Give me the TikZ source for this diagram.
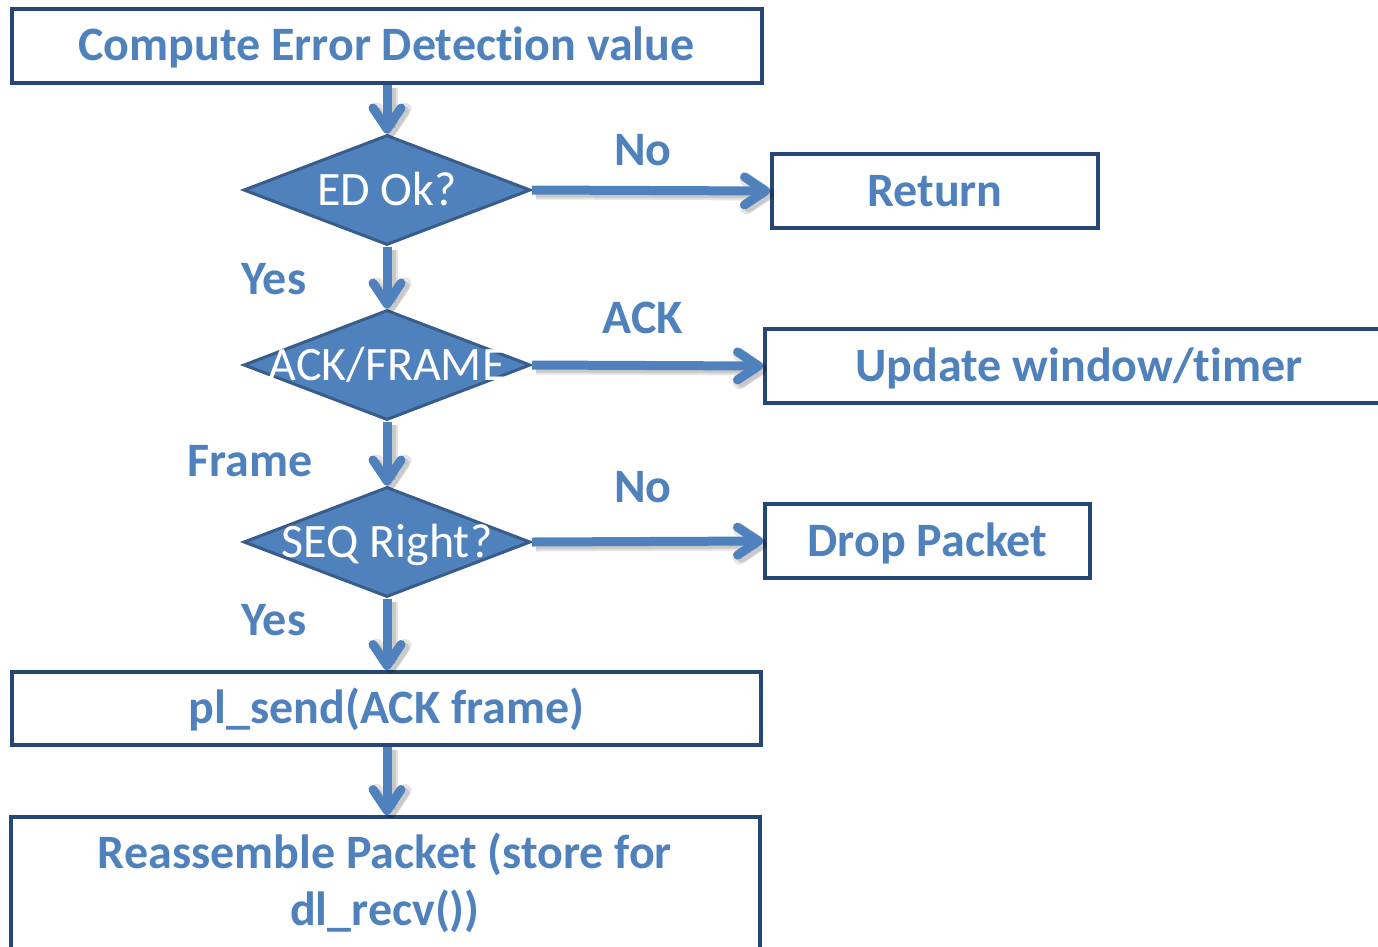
\documentclass[tikz,border=0pt]{standalone}
\usepackage{fontspec}
\setmainfont{Carlito}[Ligatures={NoCommon}]
\usetikzlibrary{shapes.geometric,arrows.meta}
\definecolor{accent}{RGB}{79,129,189}
\definecolor{boxline}{RGB}{38,70,118}
\definecolor{diaedge}{RGB}{56,93,138}
\newcommand{\bigfont}{\fontsize{48}{57}\selectfont}

\begin{document}
\begin{tikzpicture}[x=1pt,y=-1pt,
  stepbox/.style={draw=boxline, line width=4pt, rectangle, inner sep=0pt,
    text=accent, font=\bigfont\bfseries, text height=30pt, text depth=0pt},
  decision/.style={diamond, draw=diaedge, line width=3pt, fill=accent,
    inner sep=0pt, minimum width=287pt, minimum height=110pt,
    label={[text=white, font=\bigfont, text height=30pt, text depth=0pt,
      inner sep=0pt]center:#1}},
  tag/.style={text=accent, font=\bigfont\bfseries, anchor=base, inner sep=0pt},
  flow/.style={draw=accent, line width=9pt,
    -{Straight Barb[length=21pt,width=28pt,round]},
    preaction={draw=black, opacity=0.10, line width=13pt,
      transform canvas={shift={(4pt,-3pt)}}},
    preaction={draw=black, opacity=0.12, line width=9pt,
      transform canvas={shift={(4pt,-3pt)}}}}
]
\clip (0,0) rectangle (1378,946);

% process boxes
\node[stepbox, minimum width=750pt, minimum height=74pt] (compute) at (386.5,45.5)
  {Compute Error Detection value};
\node[stepbox, minimum width=326pt, minimum height=74pt] (ret) at (935,191) {Return};
\node[stepbox, minimum width=628pt, minimum height=74pt] (upd) at (1079,366)
  {Update window/timer};
\node[stepbox, minimum width=325pt, minimum height=74pt] (drop) at (927.5,541)
  {Drop Packet};
\node[stepbox, minimum width=749pt, minimum height=73pt] (send) at (386.5,708.5)
  {pl\_send(ACK frame)};
\node[stepbox, minimum width=749pt, minimum height=183pt] (re) at (385.5,908.5) {};
\node[tag] (re1) at (385,868) {Reassemble Packet (store for};
\node[tag] (re2) at (385,925) {dl\_recv())};

% decisions
\node[decision={ED Ok?}] (d1) at (387,190) {};
\node[decision={ACK/FRAME}] (d2) at (387,365) {};
\node[decision={SEQ Right?}] (d3) at (387,542) {};

% connectors
\draw[flow] (d1.north |- compute.south) -- (d1.north);
\draw[flow] (d1.east) -- (ret.west);
\draw[flow] (d1.south) -- (d2.north);
\draw[flow] (d2.east) -- (upd.west);
\draw[flow] (d2.south) -- (d3.north);
\draw[flow] (d3.east) -- (drop.west);
\draw[flow] (d3.south) -- (d3.south |- send.north);
\draw[flow] (d3.south |- send.south) -- (d3.south |- re.north);

% branch labels
\node[tag] (no1) at (643,165) {No};
\node[tag] (yes1) at (274,294) {Yes};
\node[tag] (ack) at (643,333) {ACK};
\node[tag] (frame) at (250,476) {Frame};
\node[tag] (no2) at (643,502) {No};
\node[tag] (yes2) at (274,635) {Yes};
\end{tikzpicture}
\end{document}
